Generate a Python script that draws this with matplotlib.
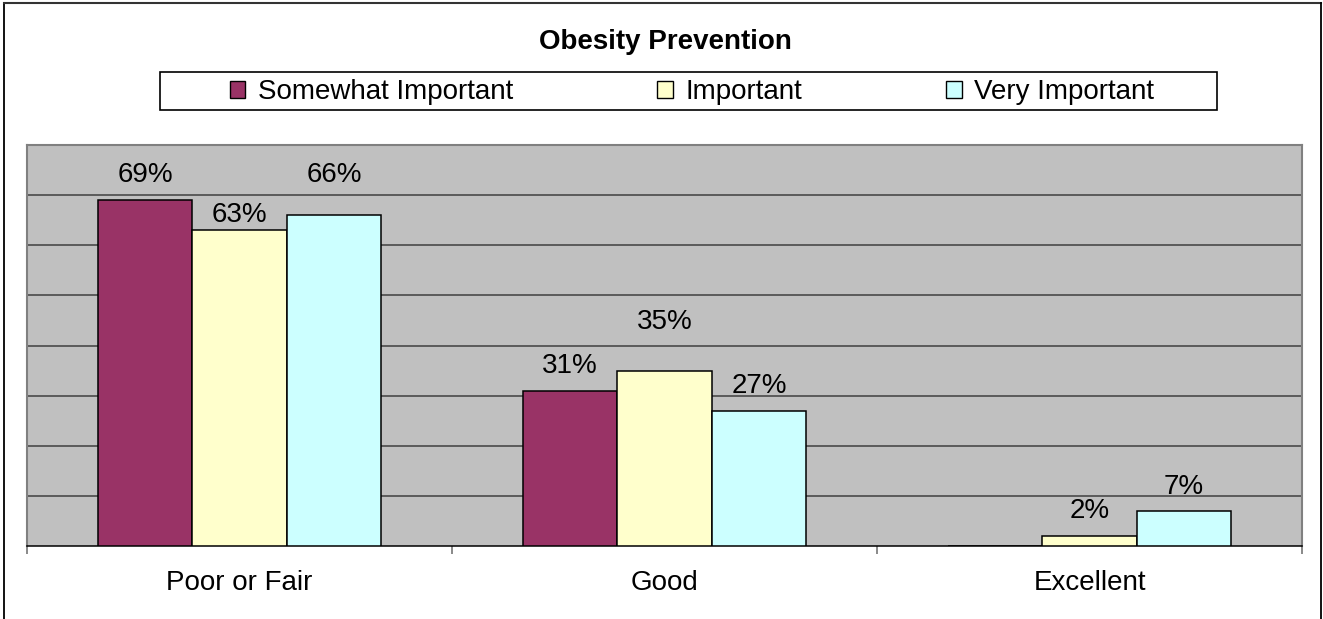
import numpy as np
import matplotlib
matplotlib.use("Agg")
import matplotlib.pyplot as plt
from matplotlib.lines import Line2D
from matplotlib.patches import Patch, Rectangle

plt.rcParams['font.family'] = ['Liberation Sans', 'DejaVu Sans']

# survey data
categories = ['Poor or Fair', 'Good', 'Excellent']
series_names = ['Somewhat Important', 'Important', 'Very Important']
somewhat_important = [69, 31, 0]
important = [63, 35, 2]
very_important = [66, 27, 7]

colors = ['#993366', '#FFFFCC', '#CCFFFF']
# how far each value label sits above its bar, in points
label_lift = [[18, 18, 0], [11, 35, 18], [29, 18, 17]]
FS = 20

fig = plt.figure(figsize=(13.23, 6.19), dpi=100)
W, H = 1323, 619

ax = fig.add_axes([27 / W, 1 - 546 / H, (1302 - 27) / W, (546 - 145) / H])
ax.set_facecolor('#C0C0C0')
ax.set_xlim(-0.5, len(categories) - 0.5)
ax.set_ylim(0, 80)

x = np.arange(len(categories))
bw = 1 / 4.5
all_series = [somewhat_important, important, very_important]
for i, vals in enumerate(all_series):
    pos = x + (i - 1) * bw
    bars = ax.bar(pos, vals, width=bw, color=colors[i], edgecolor='black',
                  linewidth=1.1, zorder=3, label=series_names[i])
    for j, (b, v) in enumerate(zip(bars, vals)):
        if v == 0:
            continue
        ax.annotate(f'{v}%', (b.get_x() + b.get_width() / 2, v),
                    xytext=(0, label_lift[i][j]), textcoords='offset points',
                    ha='center', va='center', fontsize=FS, zorder=4)

# gridlines every 10%
for g in range(10, 80, 10):
    ax.axhline(g, color='#404040', linewidth=1.1, zorder=1)

ax.set_yticks([])
for s in ['left', 'top', 'right']:
    ax.spines[s].set_color('#808080')
    ax.spines[s].set_linewidth(1.5)
ax.spines['bottom'].set_color('black')
ax.spines['bottom'].set_linewidth(1.1)

ax.set_xticks(x)
ax.set_xticklabels(categories, fontsize=FS)
ax.tick_params(axis='x', which='major', length=0, pad=17)
ax.set_xticks(np.arange(-0.5, len(categories)), minor=True)
ax.tick_params(axis='x', which='minor', length=6, width=1.3, color='#808080')

fig.text(665 / W, 1 - 42 / H, 'Obesity Prevention', ha='center', va='center',
         fontsize=FS, fontweight='bold')

# legend entries with a separate box around them
handles = [Patch(facecolor=c, edgecolor='black', linewidth=1.0) for c in colors]
fig.legend(handles, series_names, loc='center', ncol=3,
           bbox_to_anchor=(692 / W, 1 - 92 / H), fontsize=FS, frameon=False,
           handlelength=0.55, handleheight=0.55, handletextpad=0.45,
           columnspacing=5.2, borderpad=0, borderaxespad=0)
fig.add_artist(Rectangle((160 / W, 1 - 110 / H), (1217 - 160) / W, 38 / H,
                         transform=fig.transFigure, facecolor='none',
                         edgecolor='black', linewidth=1.2))

# outer chart frame
fig.add_artist(Line2D([4 / W, 4 / W], [0, 1 - 3 / H], color='black', linewidth=1.3,
                      transform=fig.transFigure))
fig.add_artist(Line2D([4 / W, 1321 / W], [1 - 3 / H, 1 - 3 / H], color='#333333',
                      linewidth=1.5, transform=fig.transFigure))
fig.add_artist(Line2D([1321 / W, 1321 / W], [0, 1 - 3 / H], color='black',
                      linewidth=1.3, transform=fig.transFigure))

fig.savefig('out.png', dpi=100, facecolor='white')
